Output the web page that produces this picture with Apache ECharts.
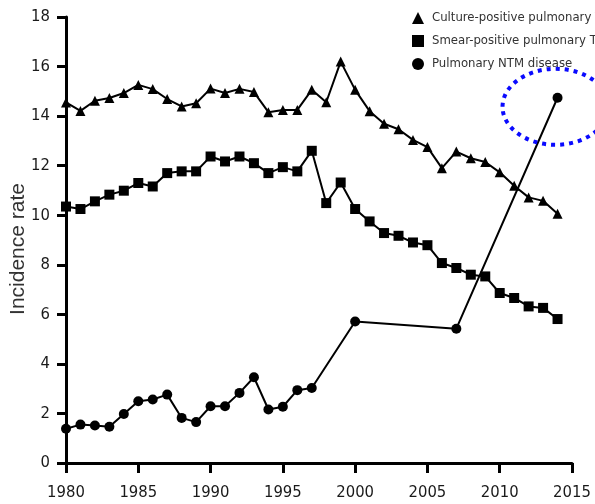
<!DOCTYPE html>
<html>
<head>
<meta charset="utf-8">
<script src="https://cdn.jsdelivr.net/npm/echarts@6/dist/echarts.min.js"></script>
<style>
  html, body { margin: 0; padding: 0; background: #fff; }
  #chart { width: 595px; height: 504px; }
</style>
</head>
<body>
<div id="chart"></div>
<script>
// Annual incidence rates, 1980-2014
const tbYears = [
  1980, 1981, 1982, 1983, 1984, 1985, 1986, 1987, 1988, 1989,
  1990, 1991, 1992, 1993, 1994, 1995, 1996, 1997, 1998, 1999,
  2000, 2001, 2002, 2003, 2004, 2005, 2006, 2007, 2008, 2009,
  2010, 2011, 2012, 2013, 2014
];
const culturePositiveTB = [
  14.55, 14.21, 14.62, 14.73, 14.93, 15.26, 15.09, 14.69, 14.39, 14.52,
  15.11, 14.93, 15.10, 14.97, 14.16, 14.25, 14.25, 15.06, 14.56, 16.20,
  15.06, 14.20, 13.69, 13.47, 13.04, 12.75, 11.90, 12.57, 12.30, 12.15,
  11.73, 11.19, 10.72, 10.58, 10.06
];
const smearPositiveTB = [
  10.35, 10.25, 10.56, 10.83, 10.99, 11.30, 11.16, 11.70, 11.77, 11.77,
  12.37, 12.17, 12.37, 12.10, 11.70, 11.94, 11.77, 12.60, 10.49, 11.32,
  10.25, 9.75, 9.28, 9.17, 8.90, 8.79, 8.07, 7.87, 7.60, 7.53,
  6.86, 6.66, 6.32, 6.26, 5.81
];
const ntmYears = [
  1980, 1981, 1982, 1983, 1984, 1985, 1986, 1987, 1988, 1989,
  1990, 1991, 1992, 1993, 1994, 1995, 1996, 1997, 2000, 2007, 2014
];
const ntmDisease = [
  1.38, 1.55, 1.51, 1.46, 1.98, 2.49, 2.56, 2.76, 1.82, 1.65,
  2.29, 2.29, 2.83, 3.46, 2.16, 2.27, 2.94, 3.03, 5.71, 5.42, 14.74
];
const seriesNames = [
  'Culture-positive pulmonary TB',
  'Smear-positive pulmonary TB',
  'Pulmonary NTM disease'
];
const xTicks = { min: 1980, max: 2015, step: 5 };
const yTicks = { min: 0, max: 18, step: 2 };

const pairs = (xs, ys) => xs.map((x, i) => [x, ys[i]]);

const condensed = "'DejaVu Sans Condensed', 'Liberation Sans Narrow', sans-serif";
const ink = '#1a1a1a';

const lineSeries = (name, data, symbol, size) => ({
  name, type: 'line', data, symbol, symbolSize: size,
  showAllSymbol: true,
  lineStyle: { color: '#000', width: 2 },
  itemStyle: { color: '#000' },
  emphasis: { disabled: true },
  animation: false
});

const chart = echarts.init(document.getElementById('chart'), null, { renderer: 'canvas' });
chart.setOption({
  backgroundColor: '#fff',
  animation: false,
  grid: { left: 66, right: 23, top: 17, bottom: 41, containLabel: false, outerBoundsMode: 'none' },
  legend: {
    orient: 'vertical',
    left: 407,
    top: 5,
    itemWidth: 12,
    itemHeight: 12,
    itemGap: 7,
    textStyle: { color: '#333', fontFamily: condensed, fontSize: 13, lineHeight: 16, padding: [0, 0, 0, 3] },
    data: [
      { name: seriesNames[0], icon: 'triangle' },
      { name: seriesNames[1], icon: 'rect' },
      { name: seriesNames[2], icon: 'circle' }
    ]
  },
  xAxis: {
    type: 'value',
    min: xTicks.min, max: xTicks.max, interval: xTicks.step,
    axisLine: { show: true, onZero: false, lineStyle: { color: '#000', width: 3 } },
    axisTick: { show: true, length: 10, lineStyle: { color: '#000', width: 3 } },
    axisLabel: { color: ink, fontFamily: condensed, fontSize: 16.5, margin: 21, formatter: v => String(v) },
    splitLine: { show: false }
  },
  yAxis: {
    type: 'value',
    min: yTicks.min, max: yTicks.max, interval: yTicks.step,
    name: 'Incidence rate',
    nameLocation: 'middle',
    nameRotate: 90,
    nameGap: 37,
    nameMoveOverlap: false,
    nameTextStyle: { color: '#333', fontFamily: "'Liberation Sans', Arial, sans-serif", fontSize: 21, padding: [0, 18, 0, 0] },
    axisLine: { show: true, lineStyle: { color: '#000', width: 3 } },
    axisTick: { show: true, length: 9, lineStyle: { color: '#000', width: 3 } },
    axisLabel: { color: ink, fontFamily: condensed, fontSize: 16.5, margin: 16 },
    splitLine: { show: false }
  },
  series: [
    lineSeries(seriesNames[0], pairs(tbYears, culturePositiveTB), 'triangle', 10),
    lineSeries(seriesNames[1], pairs(tbYears, smearPositiveTB), 'rect', 10),
    lineSeries(seriesNames[2], pairs(ntmYears, ntmDisease), 'circle', 10)
  ]
});

// Dotted blue ring highlighting the latest NTM rate
const last = ntmDisease.length - 1;
const [px, py] = chart.convertToPixel({ gridIndex: 0 }, [ntmYears[last], ntmDisease[last]]);
chart.setOption({
  graphic: [{
    type: 'ellipse',
    shape: { cx: px - 2, cy: py + 9, rx: 53, ry: 38 },
    style: { fill: 'none', stroke: '#0a0aff', lineWidth: 4, lineDash: [4, 5] },
    z: 100
  }]
});
</script>
</body>
</html>
